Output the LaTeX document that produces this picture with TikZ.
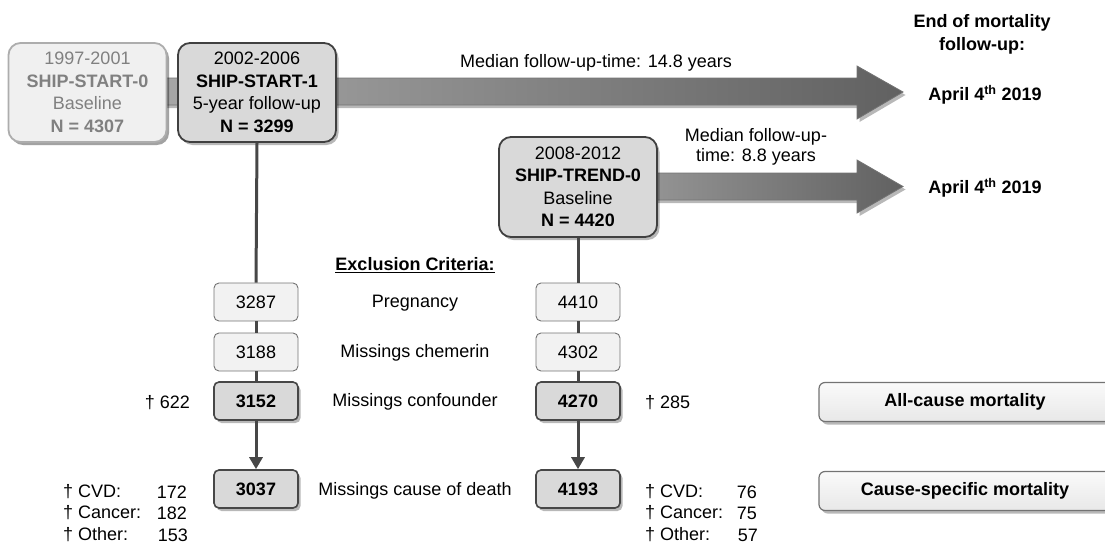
\documentclass[tikz,border=0pt]{standalone}
\usepackage{fontspec}
\setmainfont{Liberation Sans}
\usetikzlibrary{shadows,arrows.meta}
\begin{document}
\begin{tikzpicture}[x=1pt,y=-1pt,
  font=\fontsize{18}{22.5}\selectfont,
  bf/.style={font=\fontsize{18}{22.5}\selectfont\bfseries},
  shad/.style={drop shadow={shadow xshift=2.5pt,shadow yshift=-3pt,opacity=0.28,fill=black}},
  bigbox/.style={shad,draw=black!75,line width=1.8pt,fill=black!15,rounded corners=12pt,
     minimum width=158pt,minimum height=99pt,align=center,inner sep=2pt},
  fadebox/.style={bigbox,draw=black!32,fill=black!6,text=black!50,drop shadow={shadow xshift=2.5pt,shadow yshift=-3pt,opacity=0.12,fill=black}},
  smallbox/.style={draw=black!55,line width=0.9pt,fill=black!5,rounded corners=5pt,
     minimum width=84pt,minimum height=38pt,inner sep=0pt},
  darkbox/.style={smallbox,shad,fill=black!15,draw=black!72,line width=1.6pt,bf},
  mortbox/.style={shad,draw=black!55,line width=1.2pt,top color=black!2,bottom color=black!9,rounded corners=6pt,
     minimum width=300pt,minimum height=39pt,bf},
  conn/.style={draw=black!72,line width=3pt},
  bigarrow/.style={shad,draw=black!55,line width=0.8pt,left color=black!33,right color=black!62},
  lbl/.style={inner sep=0pt}
]
\useasboundingbox (0,0) rectangle (1105,543);

% big arrows (behind the boxes)
\coordinate (t1) at (903,92);
\coordinate (t2) at (903,186.5);
\path[bigarrow] (120,78) -- (857,78) -- (857,66) -- (t1) -- (857,119) -- (857,105) -- (120,105) -- cycle;
\path[bigarrow,left color=black!38] (600,173) -- (857,173) -- (857,160) -- (t2) -- (857,213) -- (857,200) -- (600,200) -- cycle;

% study boxes
\node[fadebox] (s0) at (87.5,92.5) {1997-2001\\\textbf{SHIP-START-0}\\Baseline\\\textbf{N = 4307}};
\node[bigbox] (s1) at (257,92.5) {2002-2006\\\textbf{SHIP-START-1}\\5-year follow-up\\\textbf{N = 3299}};
\node[bigbox,minimum height=100pt] (tr) at (578,187) {2008-2012\\\textbf{SHIP-TREND-0}\\Baseline\\\textbf{N = 4420}};

% arrow labels and end dates
\node[lbl] (m1) at (596,63) {Median follow-up-time: 14.8 years};
\node[lbl,align=center,font=\fontsize{18}{20.5}\selectfont] (m2) at (756,147) {Median follow-up-\\time: 8.8 years};
\node[lbl,align=center,font=\fontsize{18}{23}\selectfont\bfseries] (endt) at (982,34) {End of mortality\\follow-up:};
\node[lbl,bf] (ap1) at (985,95) {April 4\textsuperscript{th} 2019};
\node[lbl,bf] (ap2) at (985,188) {April 4\textsuperscript{th} 2019};

% exclusion criteria
\node[lbl,bf] (exc) at (415,265) {\underline{Exclusion Criteria:}};
\node[smallbox] (a1) at (256,302) {3287};
\node[smallbox] (a2) at (256,352) {3188};
\node[darkbox]  (a3) at (256,401) {3152};
\node[darkbox]  (a4) at (256,489) {3037};
\node[smallbox] (b1) at (578,302) {4410};
\node[smallbox] (b2) at (578,352) {4302};
\node[darkbox]  (b3) at (578,401) {4270};
\node[darkbox]  (b4) at (578,489) {4193};
\node[lbl] (c1) at (415,303) {Pregnancy};
\node[lbl] (c2) at (415,353) {Missings chemerin};
\node[lbl] (c3) at (415,402) {Missings confounder};
\node[lbl] (c4) at (415,491) {Missings cause of death};

% connectors
\draw[conn] (s1.south) -- (a1.north);
\draw[conn] (a1.south) -- (a2.north);
\draw[conn] (a2.south) -- (a3.north);
\draw[conn,-{Triangle[width=13pt,length=12pt]}] (a3.south) -- (a4.north);
\draw[conn] (tr.south) -- (b1.north);
\draw[conn] (b1.south) -- (b2.north);
\draw[conn] (b2.south) -- (b3.north);
\draw[conn,-{Triangle[width=13pt,length=12pt]}] (b3.south) -- (b4.north);

% deaths
\node[lbl,anchor=east] (d1) at (190,403) {† 622};
\node[lbl,anchor=west] (d2) at (645,403) {† 285};
\node[lbl,anchor=west] (l1) at (63,492) {† CVD:};
\node[lbl,anchor=west] (l2) at (63,513) {† Cancer:};
\node[lbl,anchor=west] (l3) at (63,535) {† Other:};
\node[lbl,anchor=east] (n1) at (187,492) {172};
\node[lbl,anchor=east] (n2) at (187,513) {182};
\node[lbl,anchor=east] (n3) at (188,535) {153};
\node[lbl,anchor=west] (r1) at (645,492) {† CVD:};
\node[lbl,anchor=west] (r2) at (645,513) {† Cancer:};
\node[lbl,anchor=west] (r3) at (645,535) {† Other:};
\node[lbl,anchor=east] (k1) at (757,492) {76};
\node[lbl,anchor=east] (k2) at (757,513) {75};
\node[lbl,anchor=east] (k3) at (758,535) {57};

% mortality boxes
\node[mortbox] (all) at (969,402) {\hspace*{-8pt}All-cause mortality};
\node[mortbox] (cs) at (969,491) {\hspace*{-8pt}Cause-specific mortality};
\end{tikzpicture}
\end{document}
